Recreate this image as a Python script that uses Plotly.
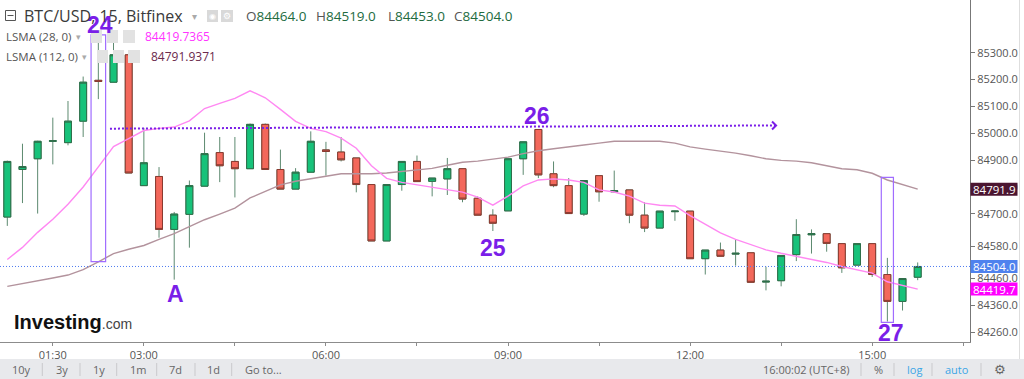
import pandas as pd
import plotly.graph_objects as go

# ---------------- data ----------------
times = pd.date_range("2025-03-01 00:45", periods=61, freq="15min")

opens = [84688, 84865, 84905, 84970, 84965, 85045, 85197, 85190, 85292, 84805,
         84839, 84642, 84698, 84803, 84928, 84895, 84868, 85033, 84865, 84792,
         84855, 84938, 84930, 84908, 84809, 84599, 84809, 84895, 84821, 84830,
         84868, 84758, 84695, 84711, 84905, 85014, 84849, 84805, 84699, 84842,
         84782, 84789, 84695, 84647, 84708, 84710, 84533, 84565, 84550, 84555,
         84446, 84451, 84548, 84622, 84626, 84589, 84509, 84589, 84474, 84374,
         84464]
highs = [84898, 84961, 84972, 85058, 85120, 85211, 85374, 85348, 85306, 85020,
         84874, 84707, 84824, 85002, 84986, 84986, 85036, 85036, 84939, 84870,
         85007, 84968, 84986, 84908, 84809, 84809, 84895, 84917, 84833, 84908,
         84868, 84765, 84717, 84905, 84968, 85014, 84895, 84833, 84824, 84842,
         84861, 84789, 84743, 84710, 84712, 84710, 84565, 84593, 84605, 84555,
         84503, 84545, 84680, 84642, 84626, 84589, 84589, 84589, 84536, 84459,
         84519]
lows = [84655, 84740, 84701, 84884, 84955, 84986, 85127, 85190, 84852, 84805,
        84611, 84455, 84574, 84803, 84818, 84761, 84868, 84865, 84792, 84792,
        84855, 84842, 84895, 84780, 84599, 84599, 84786, 84820, 84765, 84770,
        84743, 84695, 84636, 84711, 84845, 84833, 84799, 84701, 84692, 84745,
        84780, 84665, 84632, 84647, 84674, 84533, 84474, 84542, 84507, 84445,
        84415, 84430, 84524, 84552, 84559, 84480, 84509, 84465, 84299, 84340,
        84453]
closes = [84895, 84876, 84970, 84972, 85045, 85190, 85193, 85292, 84852, 84890,
          84642, 84699, 84805, 84924, 84879, 84868, 85033, 84865, 84792, 84855,
          84970, 84932, 84901, 84809, 84599, 84809, 84895, 84820, 84833, 84868,
          84755, 84695, 84665, 84905, 84968, 84845, 84805, 84701, 84824, 84782,
          84786, 84695, 84647, 84710, 84710, 84533, 84565, 84542, 84553, 84445,
          84449, 84545, 84623, 84626, 84590, 84499, 84589, 84474, 84374, 84459,
          84504]

lsma28 = [84530, 84575, 84631, 84680, 84736, 84800, 84875, 84950, 84980, 85010,
          85018, 85023, 85046, 85092, 85111, 85130, 85158, 85132, 85089, 85044,
          85018, 85006, 84982, 84944, 84879, 84832, 84817, 84808, 84798, 84789,
          84781, 84762, 84732, 84766, 84804, 84826, 84830, 84826, 84817, 84789,
          84781, 84766, 84740, 84732, 84729, 84693, 84661, 84629, 84605, 84586,
          84566, 84553, 84541, 84530, 84519, 84504, 84492, 84479, 84447, 84432,
          84419.7365]
lsma112 = [84430, 84440, 84449, 84461, 84472, 84492, 84521, 84552, 84568, 84582,
           84605, 84626, 84652, 84678, 84699, 84721, 84759, 84785, 84808, 84821,
           84830, 84839, 84849, 84849, 84849, 84852, 84858, 84864, 84869, 84881,
           84892, 84896, 84903, 84911, 84924, 84935, 84942, 84948, 84956, 84963,
           84970, 84970, 84970, 84970, 84963, 84949, 84941, 84934, 84926, 84916,
           84905, 84899, 84896, 84890, 84879, 84868, 84864, 84851, 84826, 84809,
           84791.9371]

ytick_vals = [85500, 85300, 85200, 85100, 85000, 84900, 84800, 84700, 84580, 84460, 84360, 84260]
xtick_vals = ["2025-03-01 01:30", "2025-03-01 03:00", "2025-03-01 04:30", "2025-03-01 06:00",
              "2025-03-01 07:30", "2025-03-01 09:00", "2025-03-01 10:30", "2025-03-01 12:00",
              "2025-03-01 13:30", "2025-03-01 15:00", "2025-03-01 16:30"]
xtick_text = ["01:30", "03:00", "", "06:00", "", "09:00", "", "12:00", "", "15:00", ""]

# annotations drawn on the chart
label_texts = ["24", "A", "25", "26", "27"]
label_candle = [7, 12, 33, 36, 59]          # 1-based candle index
label_prices = [85403, 84401, 84574, 85066, 84258]
label_xshift = [2, 1, 0, -1, 4]

box_candle = [7, 59]
box_top = [85366, 84836]
box_bottom = [84522, 84296]
box_halfmin = [7.2, 6.0]

arrow_times = ["2025-03-01 02:26:30", "2025-03-01 13:25:00"]
arrow_prices = [85017, 85029]

last_price = closes[-1]
tags = [(84791.9, "84791.9", "#4b1530"), (last_price, f"{last_price:.1f}", "#4f82ee"), (84419.7, "84419.7", "#ff00ff")]

# ---------------- style ----------------
GREEN = "#17c27a"
RED = "#f3685b"
WICK = "#5d8a70"
GREEN_EDGE = "#2f6d49"
RED_EDGE = "#8a3a30"
PINK = "#ff88f2"
MAUVE = "#b3939d"
PURPLE = "#7a1ee8"
FONT = "Open Sans"

W, H = 970, 342
FW, FH = 1024, 379
Y0, Y1 = 84222.8, 85496
UPP = (Y1 - Y0) / H  # price units per pixel


def px(x):
    return x / W


def py(y):
    return 1 - y / H


fig = go.Figure()

# full candles (wicks)
fig.add_trace(go.Candlestick(
    x=times, open=opens, high=highs, low=lows, close=closes,
    increasing=dict(line=dict(color=WICK, width=1), fillcolor=GREEN),
    decreasing=dict(line=dict(color=WICK, width=1), fillcolor=RED),
    whiskerwidth=0, showlegend=False, hoverinfo="skip"))
# bodies with their own edge colour
body_hi = [max(o, c) for o, c in zip(opens, closes)]
body_lo = [min(o, c) for o, c in zip(opens, closes)]
fig.add_trace(go.Candlestick(
    x=times, open=opens, high=body_hi, low=body_lo, close=closes,
    increasing=dict(line=dict(color=GREEN_EDGE, width=1), fillcolor=GREEN),
    decreasing=dict(line=dict(color=RED_EDGE, width=1), fillcolor=RED),
    whiskerwidth=0, showlegend=False, hoverinfo="skip"))

fig.add_trace(go.Scatter(x=times, y=lsma112, mode="lines", line=dict(color=MAUVE, width=1.4),
                         showlegend=False, hoverinfo="skip"))
fig.add_trace(go.Scatter(x=times, y=lsma28, mode="lines", line=dict(color=PINK, width=1.4),
                         showlegend=False, hoverinfo="skip"))

# dotted purple arrow
fig.add_trace(go.Scatter(x=arrow_times, y=arrow_prices, mode="lines",
                         line=dict(color=PURPLE, width=2, dash="2px,2px"),
                         showlegend=False, hoverinfo="skip"))
a_end = pd.Timestamp(arrow_times[1])
chev_x = [a_end - pd.Timedelta(minutes=4), a_end, a_end - pd.Timedelta(minutes=4)]
chev_y = [arrow_prices[1] + 4 * UPP, arrow_prices[1], arrow_prices[1] - 4 * UPP]
fig.add_trace(go.Scatter(x=chev_x, y=chev_y, mode="lines", line=dict(color=PURPLE, width=2),
                         showlegend=False, hoverinfo="skip"))

shapes = []
annotations = []

# last price dotted line
shapes.append(dict(type="line", xref="paper", yref="y", x0=0, x1=1, y0=last_price, y1=last_price,
                   line=dict(color="#4f7cf0", width=1, dash="1px,2px"), layer="above"))

# boxes
for ci, top, bot, hm in zip(box_candle, box_top, box_bottom, box_halfmin):
    t = times[ci - 1]
    shapes.append(dict(type="rect", xref="x", yref="y",
                       x0=t - pd.Timedelta(minutes=hm), x1=t + pd.Timedelta(minutes=hm),
                       y0=bot, y1=top, line=dict(color="#a06cff", width=1.2), layer="above"))

# labels
for txt_, ci, pr, xs in zip(label_texts, label_candle, label_prices, label_xshift):
    annotations.append(dict(x=times[ci - 1], y=pr, xref="x", yref="y", text=f"<b>{txt_}</b>",
                            showarrow=False, xshift=xs,
                            font=dict(family="Liberation Sans, Arial", size=23, color=PURPLE)))


def txt(x, y, text, size=12, color="#555", family=FONT, anchor="left"):
    annotations.append(dict(x=px(x), y=py(y), xref="paper", yref="paper", text=text,
                            showarrow=False, xanchor=anchor, yanchor="middle",
                            font=dict(family=family, size=size, color=color)))


def rect(x0, y0, x1, y1, fill=None, line=None, lw=1):
    shapes.append(dict(type="rect", xref="paper", yref="paper", x0=px(x0), x1=px(x1),
                       y0=py(y1), y1=py(y0), fillcolor=fill or "rgba(0,0,0,0)",
                       line=dict(color=line or "rgba(0,0,0,0)", width=lw if line else 0),
                       layer="above"))


def hline(x0, x1, y, color, w=1):
    shapes.append(dict(type="line", xref="paper", yref="paper", x0=px(x0), x1=px(x1),
                       y0=py(y), y1=py(y), line=dict(color=color, width=w), layer="above"))


def vline(x, y0, y1, color, w=1):
    shapes.append(dict(type="line", xref="paper", yref="paper", x0=px(x), x1=px(x),
                       y0=py(y0), y1=py(y1), line=dict(color=color, width=w), layer="above"))


# ---- header ----
rect(5.5, 10.5, 15.5, 20.5, line="#555", lw=1)
hline(7.5, 13.5, 15.5, "#555")
txt(22, 16, "BTC/USD, 15, Bitfinex", size=16, color="#3a3a3a")
txt(190, 16, "▾", size=10, color="#aaa")
rect(207, 10, 218, 22, fill="#d9d9d9")
rect(221, 10, 233, 22, fill="#d9d9d9")
txt(212.5, 16, "◉", size=8, color="#ffffff", family="DejaVu Sans", anchor="center")
txt(227, 16, "⚙", size=9, color="#ffffff", family="DejaVu Sans", anchor="center")
ohlc_labels = ["O", "H", "L", "C"]
ohlc_vals = [opens[-1], highs[-1], lows[-1], closes[-1]]
for xx, lab, v in zip([244, 314, 386, 452], ohlc_labels, ohlc_vals):
    txt(xx, 16, f"<span style='color:#555'>{lab}</span>{v:.1f}", size=13.5, color="#226b3e")

# indicator rows
txt(4, 36, "LSMA (28, 0)", size=11.5, color="#555")
txt(74, 36, "▾", size=9, color="#aaa")
for a, b in [(91, 102), (107, 118), (123, 135)]:
    rect(a, 30, b, 43, fill="#e2e2e2")
txt(143, 36, f"{lsma28[-1]:.4f}", size=12, color="#ff33ff")
txt(4, 56, "LSMA (112, 0)", size=11.5, color="#555")
txt(80, 56, "▾", size=9, color="#aaa")
for a, b in [(97, 108), (113, 124), (128, 140)]:
    rect(a, 50, b, 63, fill="#e2e2e2")
txt(149, 56, f"{lsma112[-1]:.4f}", size=12, color="#6b2a4c")

# logo
txt(12, 322, "<b>Investing</b><span style='font-size:14px;color:#444'>.com</span>",
    size=20, color="#111", family="Liberation Sans, Arial")

# right axis price tags
for v, label, col in tags:
    shapes.append(dict(type="rect", xref="paper", yref="y", x0=px(970.5), x1=px(1017.5),
                       y0=v - 6.5 * UPP, y1=v + 6.5 * UPP, fillcolor=col,
                       line=dict(width=0), layer="above"))
    annotations.append(dict(x=px(994), y=v, xref="paper", yref="y", text=label, showarrow=False,
                            xanchor="center", yanchor="middle",
                            font=dict(family=FONT, size=11.5, color="#ffffff")))

# right border
vline(1019.5, 0, 359, "#dedede")

# ---- bottom toolbar ----
rect(0, 359, 1024, 379, fill="#e8e9ec")
left_items = [("10y", 21.7), ("3y", 61.7), ("1y", 99), ("1m", 137.7), ("7d", 175.7), ("1d", 213.3), ("Go to...", 263)]
for t_, x_ in left_items:
    txt(x_, 369, t_, size=11, color="#666", anchor="center")
for x_ in [42.3, 80, 116.7, 156.7, 195, 231.7, 861, 894, 932, 981]:
    vline(x_, 363, 376, "#c9c9cc")
txt(806, 369, "16:00:02 (UTC+8)", size=11, color="#666", anchor="center")
txt(878.5, 369, "%", size=11, color="#666", anchor="center")
txt(914, 369, "log", size=11, color="#3ba6e6", anchor="center")
txt(957, 369, "auto", size=11, color="#3ba6e6", anchor="center")
txt(1000, 369, "⚙", size=13, color="#666", family="DejaVu Sans", anchor="center")

fig.update_layout(
    width=FW, height=FH,
    margin=dict(l=0, r=FW - W, t=0, b=FH - H),
    paper_bgcolor="white", plot_bgcolor="white",
    boxgap=0.35,
    showlegend=False,
    xaxis=dict(type="date", range=["2025-03-01 00:37:47", "2025-03-01 16:36:42"],
               showgrid=False, zeroline=False, showline=True, linecolor="#8c8c8c", linewidth=1,
               ticks="outside", ticklen=3, tickcolor="#8c8c8c",
               tickvals=xtick_vals, ticktext=xtick_text,
               tickfont=dict(family=FONT, size=11, color="#555"),
               rangeslider=dict(visible=False), fixedrange=True),
    yaxis=dict(side="right", range=[Y0, Y1], showgrid=False, zeroline=False,
               showline=True, linecolor="#777", linewidth=1,
               ticks="outside", ticklen=4, tickcolor="#777",
               tickvals=ytick_vals, ticktext=[f"{v:.1f}" for v in ytick_vals],
               tickfont=dict(family=FONT, size=11, color="#555"), fixedrange=True),
    shapes=shapes,
    annotations=annotations,
)

fig.write_html("out.html", config={"displayModeBar": False},
               post_script="document.body.style.margin='0';document.body.style.overflow='hidden';")
